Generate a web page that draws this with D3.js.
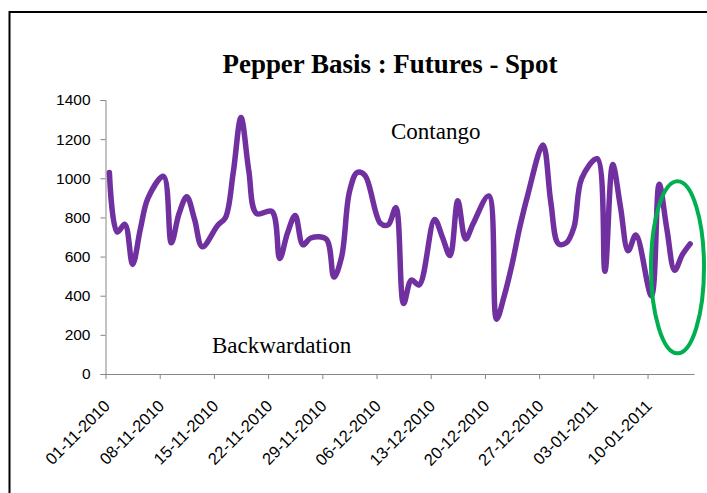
<!DOCTYPE html>
<html>
<head>
<meta charset="utf-8">
<script src="https://cdn.jsdelivr.net/npm/d3@7"></script>
<style>
  body { margin: 0; background: #fff; }
</style>
</head>
<body>
<div id="chart"></div>
<script>
// daily basis (Futures - Spot), trading days only (no Sundays)
const dates = [
    "01-11-2010","02-11-2010","03-11-2010","04-11-2010","05-11-2010","06-11-2010",
    "08-11-2010","09-11-2010","10-11-2010","11-11-2010","12-11-2010","13-11-2010",
    "15-11-2010","16-11-2010","17-11-2010","18-11-2010","19-11-2010","20-11-2010",
    "22-11-2010","23-11-2010","24-11-2010","25-11-2010","26-11-2010","27-11-2010",
    "29-11-2010","30-11-2010","01-12-2010","02-12-2010","03-12-2010","04-12-2010",
    "06-12-2010","07-12-2010","08-12-2010","09-12-2010","10-12-2010","11-12-2010",
    "13-12-2010","14-12-2010","15-12-2010","16-12-2010","17-12-2010","18-12-2010",
    "20-12-2010","21-12-2010","22-12-2010","23-12-2010","24-12-2010","25-12-2010",
    "27-12-2010","28-12-2010","29-12-2010","30-12-2010","31-12-2010","01-01-2011",
    "03-01-2011","04-01-2011","05-01-2011","06-01-2011","07-01-2011","08-01-2011",
    "10-01-2011","11-01-2011","12-01-2011","13-01-2011","14-01-2011","15-01-2011"
];
const basis = [
    1030, 725, 765, 560, 740, 900,
    1010, 670, 820, 906, 790, 650,
    760, 800, 1030, 1310, 1040, 820,
    830, 590, 720, 810, 660, 695,
    690, 495, 600, 930, 1030, 1015,
    770, 762, 850, 360, 480, 455,
    790, 700, 605, 885, 690, 770,
    910, 280, 400, 560, 750, 910,
    1170, 880, 665, 670, 750, 1000,
    1100, 525, 1070, 855, 630, 710,
    400, 970, 740, 530, 610, 665
];
const yTicks = [0, 200, 400, 600, 800, 1000, 1200, 1400];
const title = "Pepper Basis : Futures - Spot";
const labelAbove = "Contango";
const labelBelow = "Backwardation";

const parse = d3.timeParse("%d-%m-%Y");
const fmt = d3.timeFormat("%d-%m-%Y");
const data = dates.map((d, i) => ({date: parse(d), value: basis[i]}));

const w = 707, h = 493;

const svg = d3.select("#chart").append("svg")
    .attr("width", w)
    .attr("height", h);

// chart area frame
svg.append("rect")
    .attr("x", 9.5)
    .attr("y", 12)
    .attr("width", 720)
    .attr("height", 500)
    .attr("fill", "none")
    .attr("stroke", "#000")
    .attr("stroke-width", 2);

const x = d3.scaleTime()
    .domain([parse("01-11-2010"), parse("16-01-2011")])
    .range([105.5, 694]);

const y = d3.scaleLinear()
    .domain([0, 1400])
    .range([374, 100]);

// y axis
const yAxis = svg.append("g")
    .attr("transform", "translate(105.5,0)")
    .call(d3.axisLeft(y).tickValues(yTicks).tickFormat(d3.format("d")).tickSize(5).tickPadding(10));
yAxis.select(".domain").attr("stroke", "#868686");
yAxis.selectAll(".tick line").attr("stroke", "#868686");
yAxis.selectAll(".tick text")
    .attr("fill", "#000")
    .style("font-family", "'Liberation Sans', Arial, sans-serif")
    .style("font-size", "15.5px");

// x axis, a tick every Monday
const xTicks = d3.timeMonday.range(parse("01-11-2010"), parse("11-01-2011"));
const xAxis = svg.append("g")
    .attr("transform", "translate(0,374)")
    .call(d3.axisBottom(x).tickValues(xTicks).tickFormat(fmt).tickSizeInner(5).tickSizeOuter(0));
xAxis.select(".domain").attr("stroke", "#868686");
xAxis.selectAll(".tick line").attr("stroke", "#868686");
xAxis.selectAll(".tick text")
    .attr("fill", "#000")
    .attr("text-anchor", "end")
    .attr("dy", 0)
    .attr("y", 0)
    .attr("transform", "translate(5,33) rotate(-45)")
    .style("font-family", "'Liberation Sans', Arial, sans-serif")
    .style("font-size", "16.5px");

// points sit in the middle of their day
const line = d3.line()
    .x(d => x(d3.timeHour.offset(d.date, 12)))
    .y(d => y(d.value))
    .curve(d3.curveCatmullRom.alpha(0.5));

svg.append("path")
    .datum(data)
    .attr("fill", "none")
    .attr("stroke", "#7030A0")
    .attr("stroke-width", 5.5)
    .attr("stroke-linejoin", "round")
    .attr("stroke-linecap", "round")
    .attr("d", line);

// title and annotations
svg.append("text")
    .attr("x", 390)
    .attr("y", 73)
    .attr("text-anchor", "middle")
    .attr("textLength", 335)
    .attr("lengthAdjust", "spacingAndGlyphs")
    .style("font-family", "'Liberation Serif', 'DejaVu Serif', serif")
    .style("font-weight", "bold")
    .style("font-size", "28px")
    .text(title);

svg.append("text")
    .attr("x", 391)
    .attr("y", 139)
    .style("font-family", "'Liberation Serif', serif")
    .style("font-size", "23px")
    .text(labelAbove);

svg.append("text")
    .attr("x", 212)
    .attr("y", 353)
    .style("font-family", "'Liberation Serif', serif")
    .style("font-size", "23px")
    .text(labelBelow);

// highlight of the last days
svg.append("ellipse")
    .attr("cx", x(parse("14-01-2011")) - 1)
    .attr("cy", y(545))
    .attr("rx", 26.5)
    .attr("ry", 86)
    .attr("fill", "none")
    .attr("stroke", "#00B050")
    .attr("stroke-width", 4);
</script>
</body>
</html>
